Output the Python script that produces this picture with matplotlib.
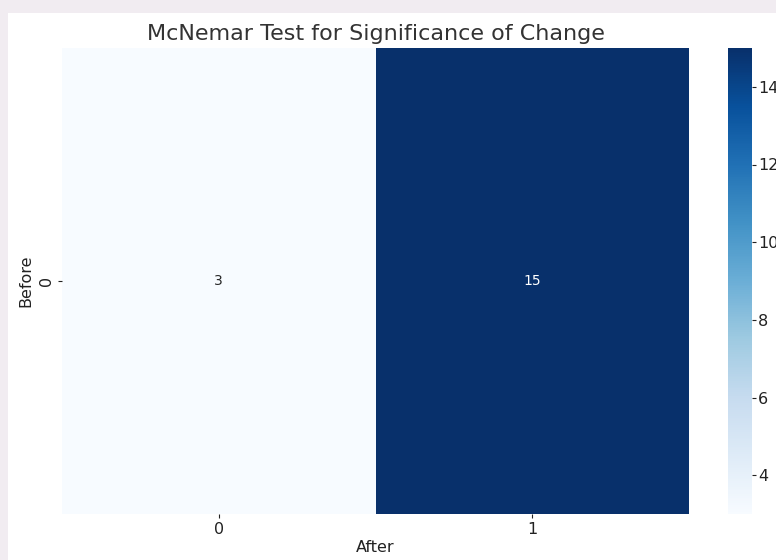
import numpy as np
import matplotlib
matplotlib.use("Agg")
import matplotlib.pyplot as plt
from matplotlib.patches import Rectangle
import seaborn as sns

# contingency table (before x after)
before_labels = ["0"]
after_labels = ["0", "1"]
counts = np.array([[3, 15]])

fig = plt.figure(figsize=(7.76, 5.6), dpi=100)
fig.patch.set_facecolor("#f1ecf1")
bg = Rectangle((8 / 776, 0), 1, 1 - 13 / 560, transform=fig.transFigure,
               facecolor="white", edgecolor="none", zorder=-5)
fig.add_artist(bg)

ax = fig.add_axes([62 / 776, 1 - 514 / 560, (689 - 62) / 776, (514 - 48) / 560])
cax = fig.add_axes([728 / 776, 1 - 514 / 560, 24 / 776, (514 - 48) / 560])

sns.heatmap(counts, annot=True, fmt="d", cmap="Blues", ax=ax, cbar_ax=cax,
            xticklabels=after_labels, yticklabels=before_labels,
            annot_kws={"fontsize": 10})

ax.set_title("McNemar Test for Significance of Change", fontsize=16, color="#333333")
ax.set_xlabel("After", fontsize=11.5, color="#222222", labelpad=2)
ax.set_ylabel("Before", fontsize=11.5, color="#222222", labelpad=4)
ax.tick_params(labelsize=11.5, colors="#222222", length=3, pad=3)
plt.setp(ax.get_yticklabels(), rotation=90, va="center")
cax.tick_params(labelsize=11.5, colors="#222222", length=3, pad=1.5)
cax.set_yticks([4, 6, 8, 10, 12, 14])

fig.savefig("out.png", dpi=100, facecolor=fig.get_facecolor())
